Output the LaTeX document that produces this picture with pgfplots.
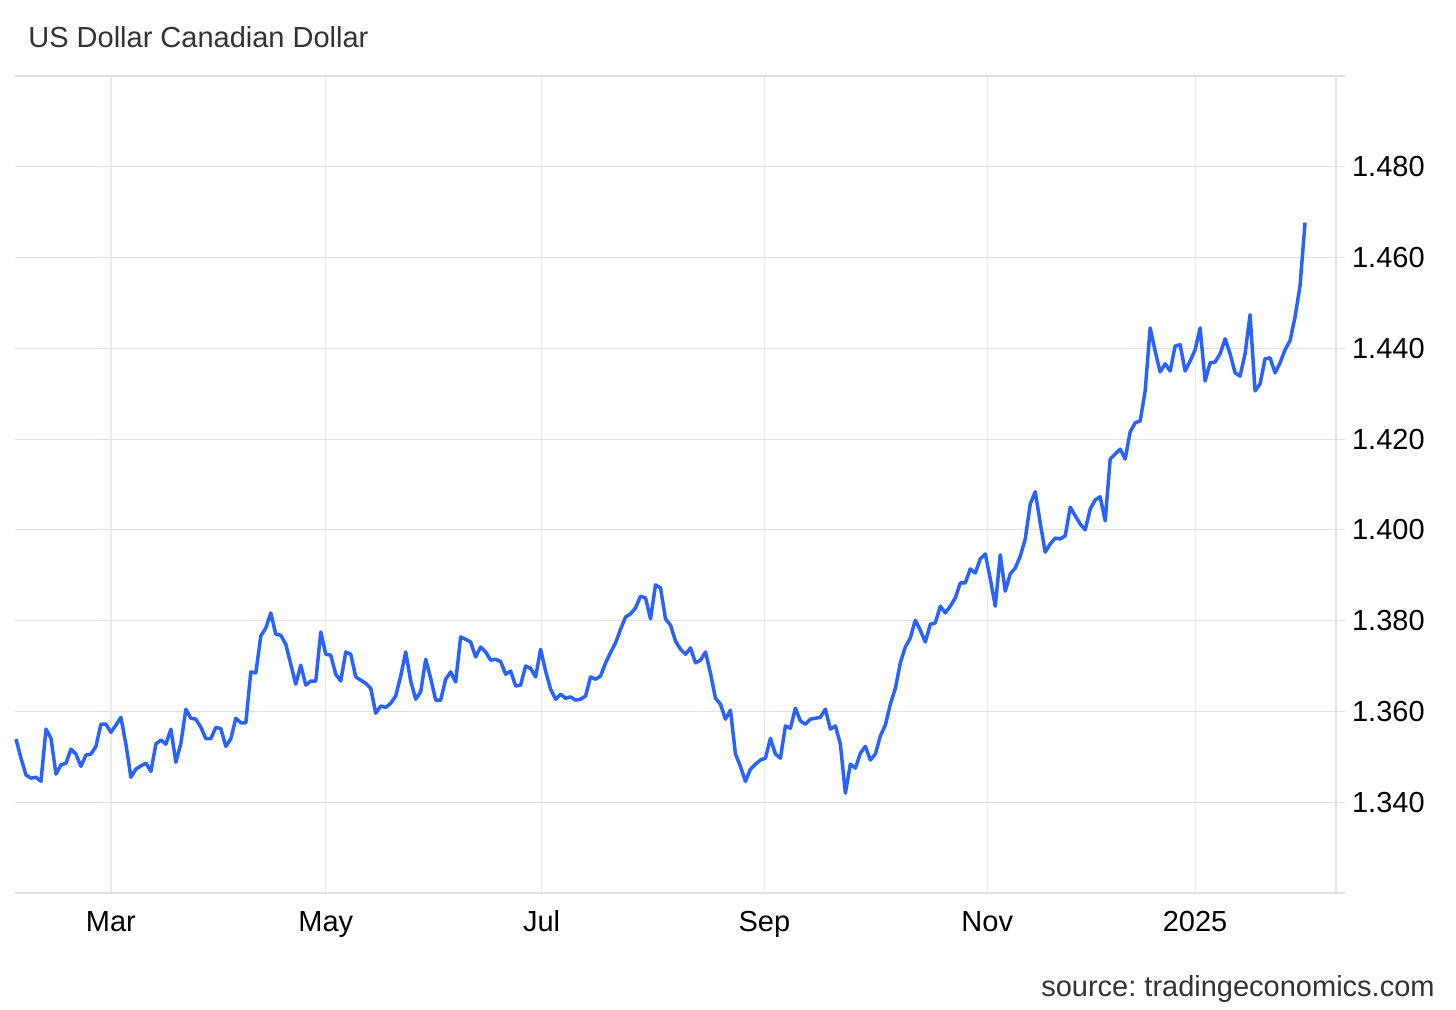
\documentclass[border=0pt]{standalone}
\usepackage{pgfplots}
\pgfplotsset{compat=1.18}
\usepackage{pgfplotstable}
\usepackage{fontspec}
\setmainfont{Liberation Sans}
\frenchspacing
\definecolor{lineblue}{HTML}{2962FF}
\definecolor{hgrid}{HTML}{E0E0E0}
\definecolor{vgrid}{HTML}{E3ECF1}
\definecolor{titlegray}{HTML}{333333}

\pgfplotstableread{
x y
0 1.3539
1 1.3497
2 1.3460
3 1.3453
4 1.3455
5 1.3446
6 1.3561
7 1.3541
8 1.3462
9 1.3482
10 1.3486
11 1.3517
12 1.3506
13 1.3479
14 1.3504
15 1.3506
16 1.3523
17 1.3572
18 1.3572
19 1.3554
20 1.3570
21 1.3587
22 1.3528
23 1.3455
24 1.3473
25 1.3480
26 1.3486
27 1.3468
28 1.3528
29 1.3537
30 1.3528
31 1.3561
32 1.3488
33 1.3530
34 1.3605
35 1.3585
36 1.3583
37 1.3565
38 1.3540
39 1.3540
40 1.3565
41 1.3562
42 1.3523
43 1.3540
44 1.3585
45 1.3575
46 1.3575
47 1.3687
48 1.3685
49 1.3766
50 1.3784
51 1.3817
52 1.3770
53 1.3768
54 1.3748
55 1.3704
56 1.3660
57 1.3702
58 1.3658
59 1.3667
60 1.3667
61 1.3775
62 1.3726
63 1.3724
64 1.3682
65 1.3667
66 1.3731
67 1.3726
68 1.3676
69 1.3669
70 1.3662
71 1.3651
72 1.3596
73 1.3612
74 1.3609
75 1.3618
76 1.3634
77 1.3678
78 1.3731
79 1.3667
80 1.3627
81 1.3643
82 1.3715
83 1.3673
84 1.3625
85 1.3625
86 1.3671
87 1.3687
88 1.3665
89 1.3764
90 1.3759
91 1.3753
92 1.3720
93 1.3742
94 1.3731
95 1.3713
96 1.3715
97 1.3710
98 1.3682
99 1.3689
100 1.3656
101 1.3658
102 1.3700
103 1.3695
104 1.3676
105 1.3737
106 1.3689
107 1.3649
108 1.3627
109 1.3638
110 1.3629
111 1.3632
112 1.3625
113 1.3627
114 1.3634
115 1.3676
116 1.3671
117 1.3678
118 1.3707
119 1.3730
120 1.3751
121 1.3781
122 1.3808
123 1.3815
124 1.3828
125 1.3854
126 1.3850
127 1.3804
128 1.3879
129 1.3872
130 1.3804
131 1.3790
132 1.3755
133 1.3737
134 1.3726
135 1.3740
136 1.3707
137 1.3713
138 1.3731
139 1.3684
140 1.3629
141 1.3616
142 1.3583
143 1.3603
144 1.3506
145 1.3479
146 1.3446
147 1.3473
148 1.3484
149 1.3493
150 1.3497
151 1.3541
152 1.3506
153 1.3497
154 1.3568
155 1.3563
156 1.3607
157 1.3579
158 1.3572
159 1.3583
160 1.3585
161 1.3587
162 1.3605
163 1.3561
164 1.3568
165 1.3528
166 1.3420
167 1.3484
168 1.3475
169 1.3508
170 1.3523
171 1.3493
172 1.3506
173 1.3546
174 1.3570
175 1.3616
176 1.3651
177 1.3707
178 1.3742
179 1.3762
180 1.3801
181 1.3779
182 1.3753
183 1.3792
184 1.3795
185 1.3832
186 1.3817
187 1.3832
188 1.3850
189 1.3883
190 1.3883
191 1.3914
192 1.3905
193 1.3936
194 1.3947
195 1.3892
196 1.3832
197 1.3945
198 1.3865
199 1.3903
200 1.3916
201 1.3942
202 1.3980
203 1.4057
204 1.4084
205 1.4015
206 1.3951
207 1.3969
208 1.3982
209 1.3980
210 1.3987
211 1.4050
212 1.4031
213 1.4013
214 1.4000
215 1.4046
216 1.4066
217 1.4073
218 1.4020
219 1.4156
220 1.4167
221 1.4178
222 1.4156
223 1.4216
224 1.4236
225 1.4240
226 1.4306
227 1.4445
228 1.4394
229 1.4348
230 1.4366
231 1.4350
232 1.4405
233 1.4408
234 1.4350
235 1.4372
236 1.4397
237 1.4445
238 1.4328
239 1.4368
240 1.4370
241 1.4388
242 1.4421
243 1.4388
244 1.4346
245 1.4339
246 1.4388
247 1.4474
248 1.4306
249 1.4322
250 1.4377
251 1.4379
252 1.4346
253 1.4368
254 1.4397
255 1.4417
256 1.4469
257 1.4538
258 1.4677
}\usdcad

\begin{document}
\begin{tikzpicture}[x=1pt,y=1pt]
\path[use as bounding box] (0,0) rectangle (728,504.5);
\begin{axis}[
  at={(7.5pt,58pt)}, anchor=south west,
  scale only axis,
  width=660.5pt, height=408.5pt,
  xmin=-0.2, xmax=264.2,
  ymin=1.32, ymax=1.50,
  axis x line=bottom, axis y line=right,
  axis line style={-, draw=hgrid, line width=0.6pt},
  xtick={19,62,105.2,149.8,194.4,236},
  xticklabels={Mar,May,Jul,Sep,Nov,2025},
  ytick={1.32,1.34,1.36,1.38,1.40,1.42,1.44,1.46,1.48,1.50},
  yticklabels={{},1.340,1.360,1.380,1.400,1.420,1.440,1.460,1.480,{}},
  xmajorgrids, ymajorgrids,
  x grid style={draw=vgrid, line width=0.6pt},
  y grid style={draw=hgrid, line width=0.6pt},
  tick align=outside,
  x tick style={draw=none},
  y tick style={draw=hgrid, line width=0.6pt},
  major tick length=4.5pt,
  tick label style={font=\fontsize{14.5}{17}\selectfont, text=black},
  xticklabel style={anchor=base, text height=10.4pt, text depth=3pt, yshift=-14.5pt},
  clip=false,
]
\addplot[color=lineblue, line width=1.75pt, line join=round] table[x=x,y=y] {\usdcad};
\end{axis}
\node[anchor=base west, text=titlegray, font=\fontsize{14.5}{17}\selectfont, inner sep=0pt] at (14,480.5) {US Dollar Canadian Dollar};
\node[anchor=base east, text=titlegray, font=\fontsize{14.5}{17}\selectfont, inner sep=0pt] at (717.5,6.5) {source: tradingeconomics.com};
\end{tikzpicture}
\end{document}
